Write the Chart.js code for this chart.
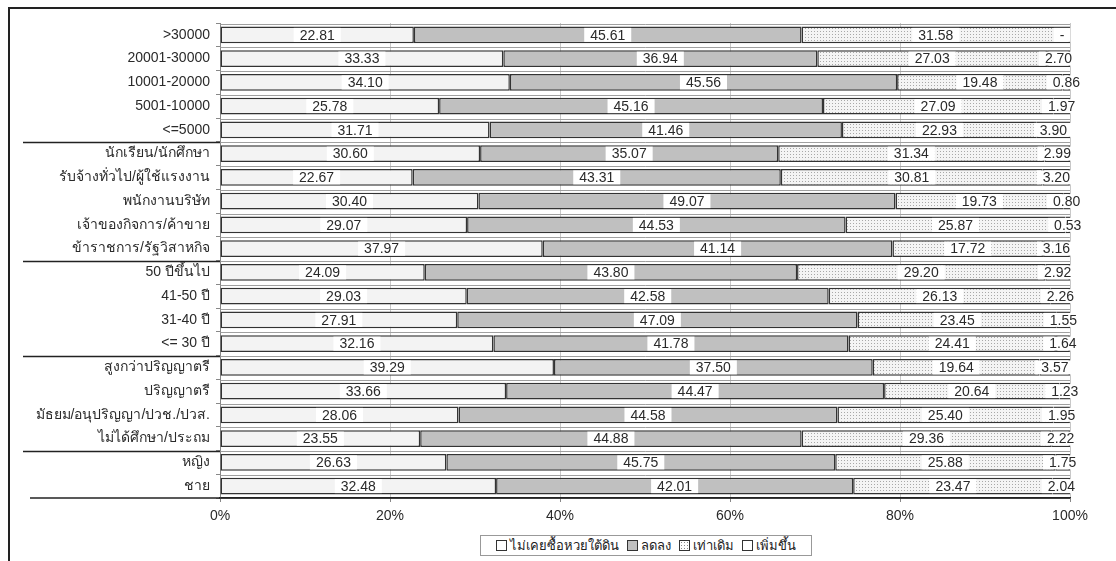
<!DOCTYPE html>
<html>
<head>
<meta charset="utf-8">
<script src="https://cdn.jsdelivr.net/npm/chart.js@4.4.0/dist/chart.umd.min.js"></script>
<style>
  body { margin: 0; background: #fff; font-family: "Liberation Sans", "Noto Sans", sans-serif; }
  #wrap { position: relative; width: 1116px; height: 561px; overflow: hidden; }
  #frame { position: absolute; left: 8px; top: 7px; width: 1200px; height: 700px; border-left: 2px solid #222; border-top: 2px solid #222; }
  canvas { position: absolute; left: 0; top: 0; }
  #legend { position: absolute; left: 480px; top: 535px; width: 330px; height: 19px; border: 1px solid #999;
    display: flex; align-items: center; justify-content: center; font-size: 13px; color: #222; background: #fff; }
  #legend span.item { display: inline-flex; align-items: center; margin: 0 4px; }
  #legend i { display: inline-block; width: 9px; height: 9px; border: 1px solid #333; margin-right: 3px; }
</style>
</head>
<body>
<div id="wrap">
  <div id="frame"></div>
  <canvas id="chart" width="1116" height="561"></canvas>
  <div id="legend"></div>
</div>
<script>
const categories = [
  '>30000', '20001-30000', '10001-20000', '5001-10000', '<=5000',
  'นักเรียน/นักศึกษา', 'รับจ้างทั่วไป/ผู้ใช้แรงงาน', 'พนักงานบริษัท', 'เจ้าของกิจการ/ค้าขาย', 'ข้าราชการ/รัฐวิสาหกิจ',
  '50 ปีขึ้นไป', '41-50 ปี', '31-40 ปี', '<= 30 ปี',
  'สูงกว่าปริญญาตรี', 'ปริญญาตรี', 'มัธยม/อนุปริญญา/ปวช./ปวส.', 'ไม่ได้ศึกษา/ประถม',
  'หญิง', 'ชาย'
];
// group separators drawn after these category indexes
const groupBreaks = [4, 9, 13, 17];

const seriesNames = ['ไม่เคยซื้อหวยใต้ดิน', 'ลดลง', 'เท่าเดิม', 'เพิ่มขึ้น'];
const neverBought = [22.81, 33.33, 34.10, 25.78, 31.71, 30.60, 22.67, 30.40, 29.07, 37.97, 24.09, 29.03, 27.91, 32.16, 39.29, 33.66, 28.06, 23.55, 26.63, 32.48];
const decreased   = [45.61, 36.94, 45.56, 45.16, 41.46, 35.07, 43.31, 49.07, 44.53, 41.14, 43.80, 42.58, 47.09, 41.78, 37.50, 44.47, 44.58, 44.88, 45.75, 42.01];
const unchanged   = [31.58, 27.03, 19.48, 27.09, 22.93, 31.34, 30.81, 19.73, 25.87, 17.72, 29.20, 26.13, 23.45, 24.41, 19.64, 20.64, 25.40, 29.36, 25.88, 23.47];
const increased   = [0, 2.70, 0.86, 1.97, 3.90, 2.99, 3.20, 0.80, 0.53, 3.16, 2.92, 2.26, 1.55, 1.64, 3.57, 1.23, 1.95, 2.22, 1.75, 2.04];
const xTicks = [0, 20, 40, 60, 80, 100];

function dotPattern() {
  const c = document.createElement('canvas');
  c.width = 3; c.height = 3;
  const g = c.getContext('2d');
  g.fillStyle = '#f4f4f4';
  g.fillRect(0, 0, 3, 3);
  g.fillStyle = '#a8a8a8';
  g.fillRect(1, 1, 1, 1);
  return g.createPattern(c, 'repeat');
}
const dots = dotPattern();
const fills = ['#f3f3f3', '#c0c0c0', dots, '#fbfbfb'];

const ctxEl = document.getElementById('chart');
const mk = (i, data) => ({
  label: seriesNames[i], data,
  backgroundColor: fills[i], borderColor: '#333', borderWidth: 1.5, borderSkipped: false,
  categoryPercentage: 0.7, barPercentage: 1
});

// thin grey "shadow" line just above every bar row
const rowShadow = {
  id: 'rowShadow',
  beforeDatasetsDraw(chart) {
    const { ctx } = chart;
    const meta = chart.getDatasetMeta(0);
    const last = chart.getDatasetMeta(chart.data.datasets.length - 1);
    ctx.save();
    ctx.strokeStyle = '#a0a0a0';
    ctx.lineWidth = 1;
    meta.data.forEach((el, i) => {
      const yy = Math.round(el.y - el.height / 2 - 3) + 0.5;
      ctx.beginPath(); ctx.moveTo(el.base, yy); ctx.lineTo(last.data[i].x, yy); ctx.stroke();
    });
    ctx.restore();
  }
};

const boxLabels = {
  id: 'boxLabels',
  afterDatasetsDraw(chart) {
    const { ctx } = chart;
    ctx.save();
    ctx.font = '14px "Liberation Sans", Arial, sans-serif';
    ctx.textAlign = 'center';
    ctx.textBaseline = 'middle';
    chart.data.datasets.forEach((ds, di) => {
      chart.getDatasetMeta(di).data.forEach((el, i) => {
        const v = ds.data[i];
        const txt = v === 0 ? '-' : v.toFixed(2);
        const cx = (el.x + el.base) / 2 - (v === 0 ? 8 : 0);
        const w = ctx.measureText(txt).width + 12;
        ctx.fillStyle = '#fff';
        ctx.fillRect(cx - w / 2, el.y - 7, w, 14);
        ctx.fillStyle = '#2a2a2a';
        ctx.fillText(txt, cx, el.y + 1);
      });
    });
    ctx.restore();
  }
};

const separators = {
  id: 'separators',
  afterDraw(chart) {
    const { ctx, chartArea: a, scales: { y } } = chart;
    ctx.save();
    ctx.strokeStyle = '#222';
    ctx.lineWidth = 1.5;
    groupBreaks.forEach(i => {
      const yy = Math.round((y.getPixelForValue(i) + y.getPixelForValue(i + 1)) / 2) + 0.5;
      ctx.beginPath(); ctx.moveTo(23, yy); ctx.lineTo(a.left, yy); ctx.stroke();
    });
    ctx.beginPath(); ctx.moveTo(30, a.bottom); ctx.lineTo(a.right, a.bottom); ctx.stroke();
    ctx.restore();
  }
};

new Chart(ctxEl, {
  type: 'bar',
  data: {
    labels: categories,
    datasets: [mk(0, neverBought), mk(1, decreased), mk(2, unchanged), mk(3, increased)]
  },
  options: {
    indexAxis: 'y',
    responsive: false,
    animation: false,
    layout: { padding: { top: 23, right: 46, left: 0, bottom: 0 } },
    plugins: { legend: { display: false }, tooltip: { enabled: false } },
    scales: {
      x: {
        stacked: true, min: 0, max: 100,
        afterBuildTicks: s => { s.ticks = xTicks.map(v => ({ value: v })); },
        afterFit: s => { s.height = 63; },
        grid: { color: '#c8c8c8', tickLength: 4, tickColor: '#888' },
        border: { color: '#222', width: 1.5 },
        ticks: { callback: v => v + '%', color: '#2a2a2a', padding: 6, font: { size: 14, family: '"Liberation Sans", Arial, sans-serif' } }
      },
      y: {
        stacked: true,
        afterFit: s => { s.width = 220; },
        grid: { offset: true, drawOnChartArea: false, tickLength: 4, tickColor: '#888' },
        border: { color: '#888', width: 1 },
        ticks: { color: '#2a2a2a', padding: 6, autoSkip: false, font: { size: 14, family: '"Liberation Sans", "Noto Sans", sans-serif' } }
      }
    }
  },
  plugins: [rowShadow, boxLabels, separators]
});

// legend
const lg = document.getElementById('legend');
seriesNames.forEach((n, i) => {
  const s = document.createElement('span');
  s.className = 'item';
  const ic = document.createElement('i');
  ic.style.background = i === 1 ? '#c0c0c0' : '#fff';
  if (i === 2) ic.style.backgroundImage = 'radial-gradient(#888 0.6px, transparent 0.8px)', ic.style.backgroundSize = '3px 3px';
  s.appendChild(ic);
  s.appendChild(document.createTextNode(n));
  lg.appendChild(s);
});
</script>
</body>
</html>
